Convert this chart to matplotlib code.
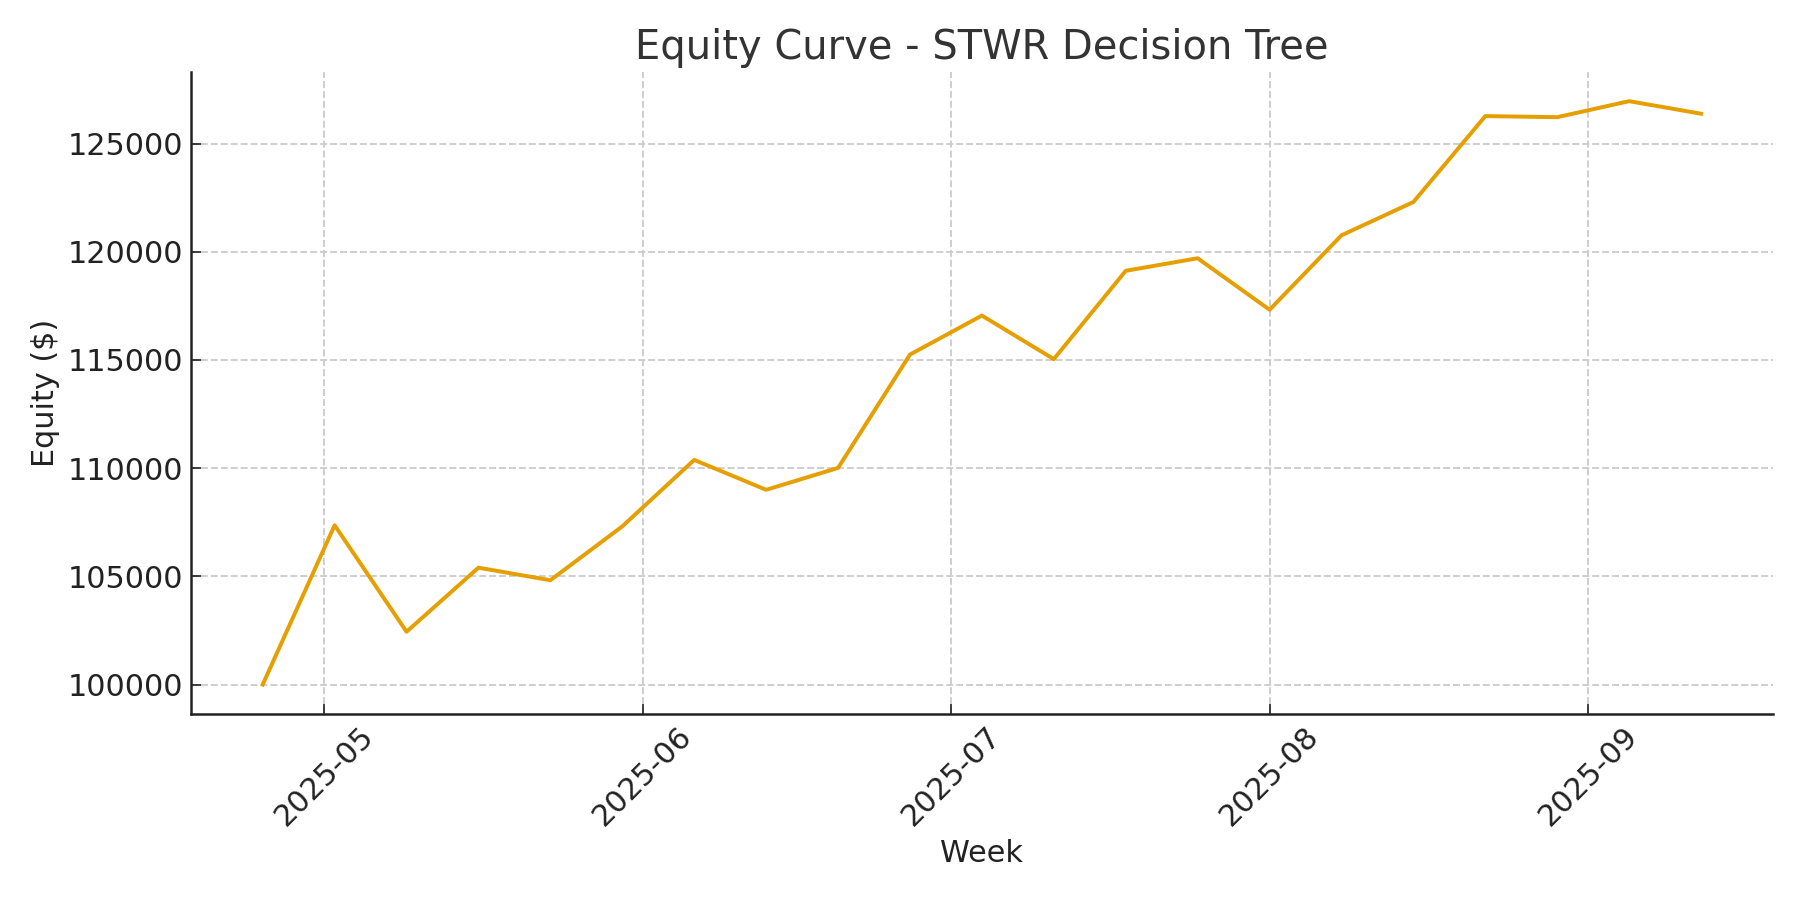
import matplotlib
matplotlib.use("Agg")
import matplotlib.pyplot as plt
import matplotlib.dates as mdates
import pandas as pd

weeks = pd.date_range("2025-04-25", periods=21, freq="7D")
equity = [100000, 107360, 102440, 105400, 104820, 107310, 110380, 109000,
          110010, 115250, 117050, 115040, 119120, 119700, 117320, 120760,
          122300, 126270, 126220, 126960, 126380]
yticks = [100000, 105000, 110000, 115000, 120000, 125000]

plt.rcParams['font.family'] = ['DejaVu Sans']
fig, ax = plt.subplots(figsize=(12, 6), dpi=150)
ax.plot(weeks, equity, color="#E69F00", linewidth=1.9)

ax.set_title("Equity Curve - STWR Decision Tree", fontsize=19.2, color="#333333")
ax.set_xlabel("Week", fontsize=14.5, color="#222222")
ax.set_ylabel("Equity ($)", fontsize=14.5, color="#222222")
ax.set_yticks(yticks)
ax.yaxis.set_major_formatter(matplotlib.ticker.FuncFormatter(lambda v, p: f"{int(v)}"))
ax.xaxis.set_major_locator(mdates.MonthLocator())
ax.xaxis.set_major_formatter(mdates.DateFormatter("%Y-%m"))
ax.tick_params(axis='both', direction='in', labelsize=14.5, colors="#222222", length=5)
plt.setp(ax.get_xticklabels(), rotation=45)
ax.grid(True, linestyle='--', color='#cccccc', linewidth=0.9)
ax.spines['top'].set_visible(False)
ax.spines['right'].set_visible(False)
for s in ('left', 'bottom'):
    ax.spines[s].set_color('#222222')
    ax.spines[s].set_linewidth(1.2)
fig.subplots_adjust(left=0.106, right=0.985, top=0.920, bottom=0.207)
fig.savefig("out.png")
